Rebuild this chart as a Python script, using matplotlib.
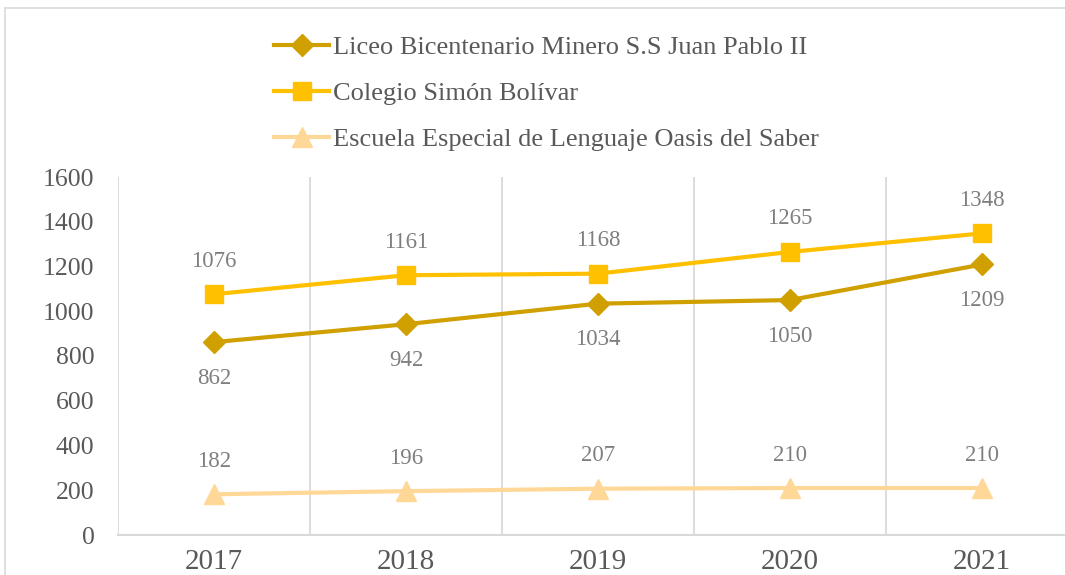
import matplotlib
matplotlib.use("Agg")
import matplotlib.pyplot as plt
from matplotlib.patches import Rectangle

years = ["2017", "2018", "2019", "2020", "2021"]
liceo = [862, 942, 1034, 1050, 1209]
colegio = [1076, 1161, 1168, 1265, 1348]
escuela = [182, 196, 207, 210, 210]
names = ["Liceo Bicentenario Minero S.S Juan Pablo II",
         "Colegio Simón Bolívar",
         "Escuela Especial de Lenguaje Oasis del Saber"]

plt.rcParams['font.family'] = ['Liberation Serif', 'DejaVu Serif']

W, H = 1065, 575
fig = plt.figure(figsize=(W / 100, H / 100), dpi=100)
fig.patches.append(Rectangle((5 / W, -0.1), 1.2, (H - 8) / H + 0.1, transform=fig.transFigure,
                             fill=False, edgecolor='#D9D9D9', linewidth=1.2))

left, right, bottom, top = 118, 1078, 535, 177
ax = fig.add_axes([left / W, 1 - bottom / H, (right - left) / W, (bottom - top) / H])
ax.set_facecolor('none')

x = list(range(len(years)))
c1, c2, c3 = '#D09F00', '#FFC000', '#FFD898'
l1, = ax.plot(x, liceo, color=c1, lw=3, marker='D', ms=11, zorder=3)
l2, = ax.plot(x, colegio, color=c2, lw=3, marker='s', ms=13, zorder=3)
l3, = ax.plot(x, escuela, color=c3, lw=3, marker='^', ms=14, zorder=3)

lab_color = '#7F7F7F'
for i, v in enumerate(liceo):
    ax.annotate(str(v), (i, v), xytext=(0, -36), textcoords='offset pixels',
                ha='center', va='center', fontsize=16.5, color=lab_color)
for i, v in enumerate(colegio):
    ax.annotate(str(v), (i, v), xytext=(0, 33), textcoords='offset pixels',
                ha='center', va='center', fontsize=16.5, color=lab_color)
for i, v in enumerate(escuela):
    ax.annotate(str(v), (i, v), xytext=(0, 33), textcoords='offset pixels',
                ha='center', va='center', fontsize=16.5, color=lab_color)

ax.set_xlim(-0.5, 4.5)
ax.set_ylim(0, 1600)
ax.set_yticks(range(0, 1601, 200))
ax.set_xticks(x)
ax.set_xticklabels(years, fontsize=21, color='#595959')
ax.tick_params(axis='y', labelsize=18.5, labelcolor='#595959', length=0, pad=17)
ax.tick_params(axis='x', length=0, pad=10)
ax.set_xticks([-0.5 + k for k in range(6)], minor=True)
ax.tick_params(axis='x', which='minor', length=0)
ax.grid(axis='x', which='minor', color='#D9D9D9', lw=1.3)
ax.grid(axis='x', which='major', visible=False)
for s in ['top', 'right', 'left']:
    ax.spines[s].set_visible(False)
ax.spines['bottom'].set_color('#D9D9D9')
ax.spines['bottom'].set_linewidth(1.5)

leg = fig.legend([l1, l2, l3], names, loc='upper left',
                 bbox_to_anchor=(274 / W, 1 - 36 / H), frameon=False,
                 fontsize=19, handlelength=2.1, handletextpad=0.12,
                 labelspacing=0.84, borderpad=0, borderaxespad=0)
for t in leg.get_texts():
    t.set_color('#595959')

fig.savefig('out.png', dpi=100)
